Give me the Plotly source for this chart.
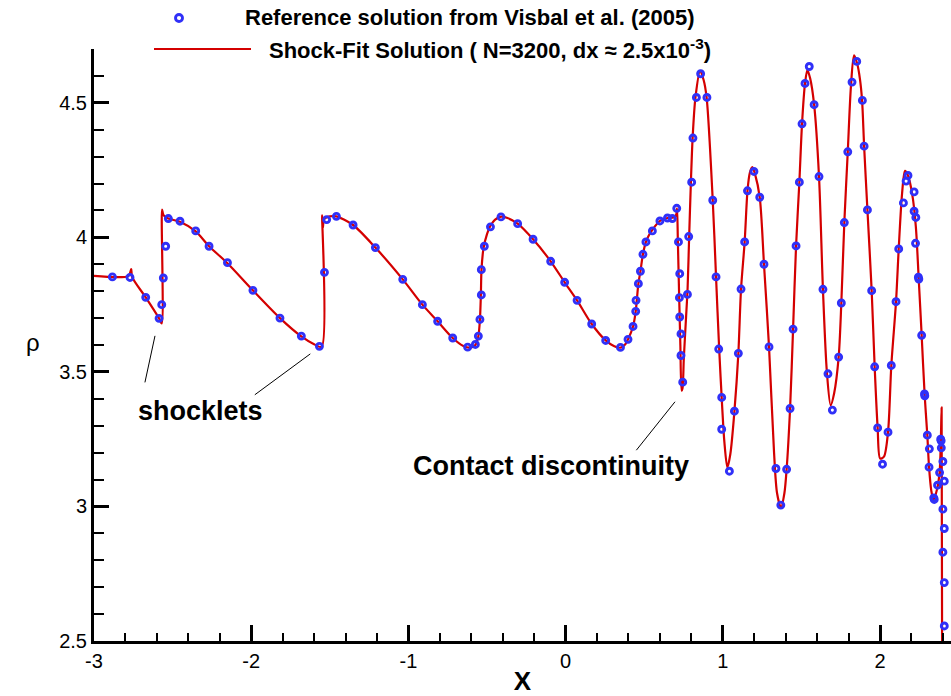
import plotly.graph_objects as go

# ---------------------------------------------------------------------------
# Reference solution (Visbal et al., 2005) - density samples
# ---------------------------------------------------------------------------
REF_X = [
    -2.883, -2.771, -2.671, -2.586, -2.569, -2.559, -2.544, -2.527, -2.453, -2.353,
    -2.268, -2.151, -1.989, -1.817, -1.681, -1.566, -1.534, -1.520, -1.458, -1.352,
    -1.210, -1.036, -0.911, -0.814, -0.718, -0.623, -0.574, -0.555, -0.545, -0.536,
    -0.536, -0.517, -0.478, -0.411, -0.305, -0.207, -0.095, -0.006, 0.073, 0.166,
    0.255, 0.349, 0.397, 0.429, 0.446, 0.448, 0.463, 0.476, 0.492, 0.511,
    0.552, 0.600, 0.648, 0.679, 0.707, 0.718, 0.726, 0.724, 0.726, 0.734,
    0.734, 0.745, 0.775, 0.783, 0.802, 0.810, 0.832, 0.859, 0.899, 0.936,
    0.957, 0.974, 0.993, 0.993, 1.042, 1.074, 1.099, 1.116, 1.139, 1.157,
    1.198, 1.235, 1.262, 1.294, 1.338, 1.369, 1.406, 1.428, 1.447, 1.466,
    1.487, 1.504, 1.523, 1.550, 1.581, 1.612, 1.637, 1.669, 1.697, 1.737,
    1.754, 1.773, 1.795, 1.822, 1.852, 1.888, 1.899, 1.920, 1.947, 1.966,
    1.985, 2.016, 2.051, 2.072, 2.102, 2.119, 2.149, 2.166, 2.178, 2.217,
    2.217, 2.228, 2.226, 2.244, 2.247, 2.265, 2.283, 2.285, 2.301, 2.314,
    2.312, 2.342, 2.345, 2.366, 2.379, 2.386, 2.389, 2.390, 2.400, 2.409,
    2.400, 2.409, 2.400, 2.409, 2.409,
]
REF_RHO = [
    3.853, 3.851, 3.777, 3.699, 3.750, 3.849, 3.967, 4.070, 4.060, 4.024,
    3.967, 3.906, 3.803, 3.700, 3.633, 3.595, 3.870, 4.066, 4.078, 4.046,
    3.962, 3.844, 3.750, 3.688, 3.626, 3.592, 3.602, 3.633, 3.695, 3.786,
    3.880, 3.967, 4.039, 4.076, 4.051, 3.993, 3.911, 3.833, 3.766, 3.678,
    3.617, 3.591, 3.621, 3.669, 3.725, 3.766, 3.828, 3.874, 3.937, 3.983,
    4.024, 4.061, 4.072, 4.070, 4.108, 3.983, 3.865, 3.776, 3.704, 3.641,
    3.561, 3.462, 3.788, 4.003, 4.205, 4.369, 4.520, 4.608, 4.520, 4.138,
    3.853, 3.585, 3.405, 3.287, 3.131, 3.354, 3.569, 3.808, 3.983, 4.173,
    4.245, 4.149, 3.900, 3.593, 3.141, 3.005, 3.138, 3.364, 3.659, 3.968,
    4.205, 4.422, 4.572, 4.635, 4.493, 4.226, 3.807, 3.493, 3.358, 3.555,
    3.756, 4.055, 4.318, 4.577, 4.654, 4.509, 4.339, 4.102, 3.802, 3.519,
    3.292, 3.157, 3.276, 3.524, 3.761, 3.957, 4.128, 4.209, 4.230, 4.169,
    4.097, 4.074, 3.978, 3.852, 3.845, 3.636, 3.418, 3.411, 3.265, 3.214,
    3.146, 3.032, 3.026, 3.079, 3.126, 3.250, 3.244, 3.218, 3.167, 3.094,
    2.990, 2.918, 2.830, 2.717, 2.556,
]

# ---------------------------------------------------------------------------
# Shock-fitting solution (N=3200) - density profile
# ---------------------------------------------------------------------------
FIT_X = [
    -3.000, -2.780, -2.763, -2.758, -2.671, -2.586, -2.569, -2.567, -2.558, -2.527,
    -2.453, -2.353, -2.268, -2.151, -1.989, -1.817, -1.681, -1.600, -1.552, -1.549,
    -1.544, -1.536, -1.500, -1.458, -1.352, -1.210, -1.036, -0.911, -0.814, -0.718,
    -0.650, -0.610, -0.574, -0.555, -0.545, -0.539, -0.535, -0.522, -0.500, -0.478,
    -0.450, -0.411, -0.370, -0.305, -0.207, -0.095, -0.006, 0.073, 0.166, 0.255,
    0.310, 0.349, 0.380, 0.397, 0.429, 0.446, 0.455, 0.463, 0.476, 0.492,
    0.511, 0.530, 0.552, 0.600, 0.648, 0.690, 0.704, 0.709, 0.714, 0.722,
    0.730, 0.738, 0.744, 0.752, 0.765, 0.776, 0.786, 0.797, 0.808, 0.826,
    0.855, 0.878, 0.897, 0.936, 0.957, 0.977, 0.997, 1.010, 1.029, 1.048,
    1.074, 1.099, 1.116, 1.139, 1.157, 1.172, 1.188, 1.205, 1.235, 1.262,
    1.294, 1.326, 1.345, 1.370, 1.392, 1.406, 1.428, 1.447, 1.466, 1.487,
    1.504, 1.523, 1.538, 1.556, 1.581, 1.612, 1.637, 1.662, 1.686, 1.708,
    1.737, 1.754, 1.773, 1.795, 1.815, 1.835, 1.855, 1.872, 1.886, 1.899,
    1.920, 1.947, 1.966, 1.985, 2.001, 2.025, 2.051, 2.072, 2.102, 2.119,
    2.140, 2.159, 2.178, 2.205, 2.228, 2.246, 2.265, 2.284, 2.301, 2.312,
    2.326, 2.340, 2.362, 2.379, 2.387, 2.392, 2.395,
]
FIT_RHO = [
    3.857, 3.857, 3.882, 3.853, 3.777, 3.699, 3.680, 4.103, 4.083, 4.070,
    4.058, 4.022, 3.967, 3.904, 3.803, 3.700, 3.632, 3.603, 3.593, 4.082,
    4.035, 4.068, 4.078, 4.078, 4.046, 3.962, 3.844, 3.750, 3.688, 3.626,
    3.596, 3.590, 3.600, 3.633, 3.695, 3.786, 3.880, 3.960, 4.012, 4.043,
    4.065, 4.077, 4.072, 4.051, 3.993, 3.911, 3.833, 3.766, 3.678, 3.617,
    3.595, 3.590, 3.603, 3.621, 3.669, 3.725, 3.780, 3.828, 3.874, 3.937,
    3.983, 4.008, 4.028, 4.061, 4.072, 4.075, 4.085, 4.108, 3.990, 3.790,
    3.600, 3.430, 3.440, 3.550, 3.690, 3.810, 4.003, 4.205, 4.369, 4.520,
    4.617, 4.585, 4.520, 4.138, 3.853, 3.585, 3.360, 3.240, 3.145, 3.195,
    3.354, 3.569, 3.808, 3.983, 4.173, 4.240, 4.261, 4.235, 4.149, 3.900,
    3.593, 3.200, 3.050, 2.995, 3.050, 3.138, 3.364, 3.659, 3.968, 4.205,
    4.422, 4.572, 4.622, 4.590, 4.493, 4.226, 3.807, 3.500, 3.376, 3.420,
    3.555, 3.756, 4.055, 4.318, 4.560, 4.676, 4.645, 4.590, 4.509, 4.339,
    4.102, 3.802, 3.519, 3.292, 3.178, 3.185, 3.276, 3.524, 3.761, 3.957,
    4.160, 4.247, 4.230, 4.160, 4.040, 3.849, 3.636, 3.415, 3.265, 3.146,
    3.060, 3.024, 3.062, 3.126, 3.246, 3.368, 2.500,
]

X_TICKS = [-3, -2, -1, 0, 1, 2]
X_TICK_TEXT = ["-3", "-2", "-1", "0", "1", "2"]
Y_TICKS = [2.5, 3, 3.5, 4, 4.5]
Y_TICK_TEXT = ["2.5", "3", "3.5", "4", "4.5"]

REF_LABEL = "Reference solution from Visbal et al. (2005)"
FIT_LABEL = "Shock-Fit Solution ( N=3200, dx \u2248 2.5x10<sup>-3</sup>)"

assert len(REF_X) == len(REF_RHO)
assert len(FIT_X) == len(FIT_RHO)

# ---------------------------------------------------------------------------
# Figure geometry
# ---------------------------------------------------------------------------
W, H = 951, 696
M_L, M_R, M_T, M_B = 94, 0, 49, 55
PW, PH = W - M_L - M_R, H - M_T - M_B

FONT = "Liberation Sans, Arial, Helvetica, sans-serif"
RED = "#d40000"
BLUE = "#3030f8"


def paper_x(px):
    return (px - M_L) / PW


def paper_y(py):
    return (H - M_B - py) / PH


fig = go.Figure()

fig.add_trace(go.Scatter(
    x=FIT_X, y=FIT_RHO, mode="lines",
    line=dict(color=RED, width=2.2, shape="spline", smoothing=0.8),
    name="Shock-Fit Solution", showlegend=False, hoverinfo="skip",
))

fig.add_trace(go.Scatter(
    x=REF_X, y=REF_RHO, mode="markers",
    marker=dict(symbol="circle-open", size=6, color=BLUE,
                line=dict(color=BLUE, width=2.9)),
    name="Reference solution", showlegend=False, hoverinfo="skip",
))

# hand-placed legend in the upper-left corner
fig.add_shape(type="circle", xref="paper", yref="paper",
              xsizemode="pixel", ysizemode="pixel",
              xanchor=paper_x(179), yanchor=paper_y(18),
              x0=-3.5, x1=3.5, y0=-3.5, y1=3.5,
              line=dict(color=BLUE, width=2.9), fillcolor="rgba(0,0,0,0)")
fig.add_shape(type="line", xref="paper", yref="paper",
              x0=paper_x(154), x1=paper_x(251), y0=paper_y(49), y1=paper_y(49),
              line=dict(color=RED, width=2.2))
fig.add_annotation(text="<b>" + REF_LABEL + "</b>", xref="paper", yref="paper",
                   x=paper_x(243), y=paper_y(18), xanchor="left", yanchor="middle",
                   showarrow=False, font=dict(family=FONT, size=22, color="black"))
fig.add_annotation(text="<b>" + FIT_LABEL + "</b>", xref="paper", yref="paper",
                   x=paper_x(267), y=paper_y(49), xanchor="left", yanchor="middle",
                   showarrow=False, font=dict(family=FONT, size=22, color="black"))

# feature labels with leader lines
fig.add_annotation(text="<b>shocklets</b>", x=-2.321, y=3.354, xref="x", yref="y",
                   showarrow=False, font=dict(family=FONT, size=27, color="black"))
fig.add_annotation(text="<b>Contact discontinuity</b>", x=-0.095, y=3.152,
                   xref="x", yref="y", showarrow=False,
                   font=dict(family=FONT, size=27, color="black"))
for (xa, ya, xb, yb) in [(-2.612, 3.634, -2.676, 3.461),
                         (-1.624, 3.567, -1.977, 3.415),
                         (0.696, 3.389, 0.450, 3.209)]:
    fig.add_shape(type="line", xref="x", yref="y", x0=xa, y0=ya, x1=xb, y1=yb,
                  line=dict(color="black", width=1))

# y-axis symbol, upright
fig.add_annotation(text="\u03c1", xref="paper", yref="paper",
                   x=paper_x(24), y=paper_y(342), showarrow=False,
                   font=dict(family=FONT, size=24, color="black"))

fig.update_layout(
    width=W, height=H,
    margin=dict(l=M_L, r=M_R, t=M_T, b=M_B, pad=0),
    paper_bgcolor="white", plot_bgcolor="white",
    font=dict(family=FONT, size=20, color="black"),
    showlegend=False,
    xaxis=dict(
        range=[-3, -3 + PW / 157.2], showgrid=False, zeroline=False,
        showline=True, linecolor="black", linewidth=3,
        ticks="inside", ticklen=16, tickwidth=3, tickcolor="black",
        tickvals=X_TICKS, ticktext=X_TICK_TEXT,
        tickfont=dict(family=FONT, size=20, color="black"),
        minor=dict(dtick=0.2, ticks="inside", ticklen=8, tickwidth=1.5,
                   tickcolor="black", showgrid=False),
        title=dict(text="<b>X</b>", font=dict(family=FONT, size=26, color="black"),
                   standoff=6),
    ),
    yaxis=dict(
        range=[2.5, 4.7], showgrid=False, zeroline=False,
        showline=True, linecolor="black", linewidth=3,
        ticks="inside", ticklen=15, tickwidth=3, tickcolor="black",
        tickvals=Y_TICKS, ticktext=Y_TICK_TEXT,
        tickfont=dict(family=FONT, size=20, color="black"),
        minor=dict(dtick=0.1, ticks="inside", ticklen=10, tickwidth=1.5,
                   tickcolor="black", showgrid=False),
    ),
)

fig.write_html("out.html")
